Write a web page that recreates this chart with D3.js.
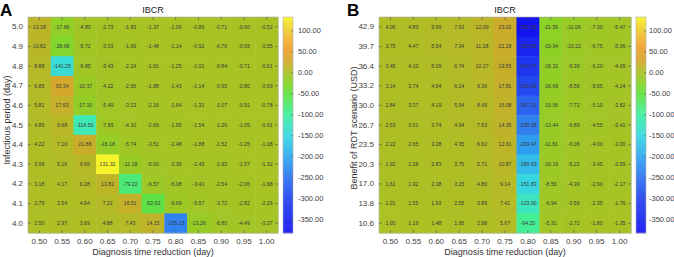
<!DOCTYPE html>
<html>
<head>
<meta charset="utf-8">
<script src="https://cdn.jsdelivr.net/npm/d3@7"></script>
<style>
  body { margin: 0; background: #fff; }
  text { font-family: "Liberation Sans", Arial, sans-serif; }
</style>
</head>
<body>
<div id="chart-area"></div>
<script>
// x categories shared by both panels
var diagnosisReduction = ["0.50", "0.55", "0.60", "0.65", "0.70", "0.75", "0.80", "0.85", "0.90", "0.95", "1.00"];

// panel A rows, top to bottom
var infectiousPeriod = ["5.0", "4.9", "4.8", "4.7", "4.6", "4.5", "4.4", "4.3", "4.2", "4.1", "4.0"];
var ibcrA = [
  [13.18, -17.66, -4.83, -2.73, -1.83, -1.37, -1.06, -0.86, -0.71, -0.60, -0.52],
  [10.82, -28.68, -5.72, -3.03, -1.99, -1.48, -1.14, -0.92, -0.76, -0.65, -0.55],
  [8.88, -141.25, -6.85, -3.43, -2.24, -1.61, -1.25, -1.01, -0.84, -0.71, -0.61],
  [6.85, 30.34, -10.37, -4.22, -2.65, -1.88, -1.43, -1.14, -0.95, -0.80, -0.69],
  [5.81, 17.63, -17.10, -5.49, -3.13, -2.16, -1.64, -1.31, -1.07, -0.91, -0.78],
  [4.89, 9.68, -114.50, -7.83, -4.10, -2.69, -1.95, -1.54, -1.26, -1.05, -0.91],
  [4.22, 7.10, 21.88, -16.18, -5.74, -3.51, -2.48, -1.88, -1.52, -1.26, -1.08],
  [3.58, 5.16, 9.69, 131.32, -11.18, -5.00, -3.36, -2.45, -1.92, -1.57, -1.32],
  [3.18, 4.17, 6.28, 13.82, -79.22, -9.57, -5.08, -3.41, -2.54, -2.06, -1.68],
  [2.79, 3.54, 4.64, 7.22, 16.51, -52.62, -9.69, -5.57, -3.72, -2.82, -2.26],
  [2.50, 2.97, 3.69, 4.88, 7.43, 14.15, -235.15, -13.26, -6.80, -4.49, -3.37]
];

// panel B rows, top to bottom
var rdtBenefit = ["42.9", "39.7", "36.4", "33.2", "30.0", "26.7", "23.5", "20.3", "17.0", "13.8", "10.6"];
var ibcrB = [
  [4.06, 4.83, 5.99, 7.93, 12.09, 23.02, -382.38, -21.56, -11.06, -7.30, -5.47],
  [3.75, 4.47, 5.54, 7.34, 11.18, 21.29, -353.55, -19.94, -10.22, -6.75, -5.06],
  [3.45, 4.10, 5.09, 6.74, 10.27, 19.55, -324.77, -18.31, -9.39, -6.20, -4.65],
  [3.14, 3.74, 4.64, 6.14, 9.36, 17.81, -295.93, -16.69, -8.56, -5.65, -4.24],
  [2.84, 3.37, 4.19, 5.54, 8.45, 16.08, -267.10, -15.06, -7.72, -5.10, -3.82],
  [2.53, 3.01, 3.74, 4.94, 7.53, 14.35, -238.28, -13.44, -6.89, -4.55, -3.41],
  [2.22, 2.65, 3.28, 4.35, 6.62, 12.61, -209.47, -11.81, -6.06, -4.00, -3.00],
  [1.92, 2.28, 2.83, 3.75, 5.71, 10.87, -180.63, -10.19, -5.22, -3.45, -2.59],
  [1.61, 1.92, 2.38, 3.15, 4.80, 9.14, -151.83, -8.56, -4.39, -2.90, -2.17],
  [1.31, 1.55, 1.93, 2.55, 3.89, 7.41, -123.00, -6.94, -3.56, -2.35, -1.76],
  [1.00, 1.19, 1.48, 1.95, 2.98, 5.67, -94.20, -5.31, -2.72, -1.80, -1.35]
];

var colorbarTicks = [100, 50, 0, -50, -100, -150, -200, -250, -300, -350];
var colorRange = [-383, 132];

// colormap stops (value -> colour)
var color = d3.scaleLinear()
  .domain([-383, -300, -250, -200, -150, -100, -50, -25, 0, 25, 60, 100, 132])
  .range(["#1414f0", "#2444f0", "#3074f0", "#30a8f0", "#38d8e0", "#40f0a0", "#60e040", "#88d428",
          "#a9c224", "#cfa92c", "#f0a030", "#f0c830", "#f5f52a"])
  .interpolate(d3.interpolateRgb);

var svg = d3.select("#chart-area").append("svg").attr("width", 674).attr("height", 257);

function drawPanel(opts) {
  var g = svg.append("g");
  var x = d3.scaleBand().domain(diagnosisReduction).range([opts.left, opts.right]);
  var y = d3.scaleBand().domain(opts.rows).range([17, 233]);

  var cells = [];
  opts.values.forEach((row, i) => {
    row.forEach((v, j) => {
      cells.push({row: opts.rows[i], col: diagnosisReduction[j], value: v});
    });
  });

  g.selectAll("rect.cell").data(cells).enter()
    .append("rect")
    .attr("class", "cell")
    .attr("x", (d) => x(d.col))
    .attr("y", (d) => y(d.row))
    .attr("width", x.bandwidth() + 0.5)
    .attr("height", y.bandwidth() + 0.5)
    .attr("fill", (d) => color(d.value));

  g.selectAll("text.cell").data(cells).enter()
    .append("text")
    .attr("class", "cell")
    .attr("x", (d) => x(d.col) + x.bandwidth() / 2)
    .attr("y", (d) => y(d.row) + y.bandwidth() / 2 + 1.8)
    .attr("text-anchor", "middle")
    .attr("font-size", 5.2)
    .attr("fill", "#3a3a3a")
    .text((d) => d.value.toFixed(2));

  // box
  g.append("rect")
    .attr("x", opts.left).attr("y", 17)
    .attr("width", opts.right - opts.left).attr("height", 216)
    .attr("fill", "none").attr("stroke", "#b0b0b0").attr("stroke-width", 0.6);

  // axes with inward ticks
  var xb = g.append("g").attr("transform", "translate(0,233)")
    .call(d3.axisBottom(x).tickSizeInner(-3).tickSizeOuter(0).tickPadding(5));
  var xt = g.append("g").attr("transform", "translate(0,17)")
    .call(d3.axisTop(x).tickSizeInner(-3).tickSizeOuter(0).tickFormat(""));
  var yl = g.append("g").attr("transform", "translate(" + opts.left + ",0)")
    .call(d3.axisLeft(y).tickSizeInner(-3).tickSizeOuter(0).tickPadding(5));
  var yr = g.append("g").attr("transform", "translate(" + opts.right + ",0)")
    .call(d3.axisRight(y).tickSizeInner(-3).tickSizeOuter(0).tickFormat(""));
  [xb, xt, yl, yr].forEach((a) => {
    a.select(".domain").remove();
    a.selectAll(".tick line").attr("stroke", "#555").attr("stroke-width", 0.6);
    a.selectAll(".tick text").attr("font-size", 8).attr("fill", "#404040")
      .attr("font-family", "Liberation Sans, Arial, sans-serif");
  });

  svg.append("text")
    .attr("x", (opts.left + opts.right) / 2).attr("y", 13)
    .attr("text-anchor", "middle").attr("font-size", 9).attr("fill", "#222")
    .text("IBCR");

  svg.append("text")
    .attr("x", (opts.left + opts.right) / 2).attr("y", 255)
    .attr("text-anchor", "middle").attr("font-size", 9).attr("fill", "#333")
    .text("Diagnosis time reduction (day)");

  svg.append("text")
    .attr("transform", "translate(" + opts.ylabelX + "," + opts.ylabelY + ") rotate(-90)")
    .attr("text-anchor", "middle").attr("font-size", 9).attr("fill", "#333")
    .text(opts.ylabel);

  svg.append("text")
    .attr("x", opts.letterX).attr("y", 16)
    .attr("font-size", 17).attr("font-weight", "bold").attr("fill", "#000")
    .text(opts.letter);

  // colour bar
  var cy = d3.scaleLinear().domain(colorRange).range([233, 17]);
  var cb = svg.append("g");
  var steps = d3.range(colorRange[0], colorRange[1], 1);
  cb.selectAll("rect").data(steps).enter()
    .append("rect")
    .attr("x", opts.barX)
    .attr("y", (d) => cy(d + 1))
    .attr("width", 10)
    .attr("height", Math.abs(cy(0) - cy(1)) + 0.3)
    .attr("fill", (d) => color(d + 0.5));
  cb.append("rect")
    .attr("x", opts.barX).attr("y", 17).attr("width", 10).attr("height", 216)
    .attr("fill", "none").attr("stroke", "#b0b0b0").attr("stroke-width", 0.6);
  var ca = cb.append("g").attr("transform", "translate(" + (opts.barX + 10) + ",0)")
    .call(d3.axisRight(cy).tickValues(colorbarTicks).tickSizeInner(-2).tickSizeOuter(0)
      .tickPadding(opts.barPad).tickFormat((d) => d.toFixed(2)));
  ca.select(".domain").remove();
  ca.selectAll(".tick line").attr("stroke", "#555").attr("stroke-width", 0.6);
  ca.selectAll(".tick text").attr("font-size", 7.5).attr("fill", "#404040")
    .attr("font-family", "Liberation Sans, Arial, sans-serif");
}

drawPanel({letter: "A", letterX: 0, left: 28, right: 278, barX: 283, barPad: 5,
  rows: infectiousPeriod, values: ibcrA, ylabel: "Infectious period (day)", ylabelX: 9.5, ylabelY: 120});
drawPanel({letter: "B", letterX: 347, left: 379, right: 631, barX: 636, barPad: 3,
  rows: rdtBenefit, values: ibcrB, ylabel: "Benefit of RDT scenario (USD)", ylabelX: 357, ylabelY: 128});
</script>
</body>
</html>
